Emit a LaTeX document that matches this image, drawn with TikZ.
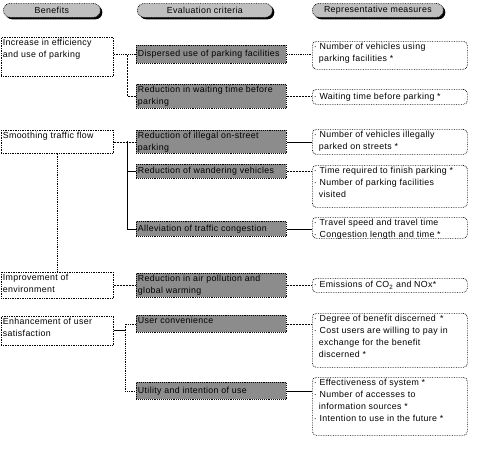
\documentclass[tikz,border=0pt]{standalone}
\usepackage{fontspec}
\setmainfont[LetterSpace=4]{Liberation Sans}
\usetikzlibrary{shadows}
\newcommand\cellbox[3]{\parbox[t][#2][t]{#1}{\raggedright #3}}
\newcommand\cellmid[3]{\parbox[t][#2][c]{#1}{\raggedright #3}}
\newcommand\ind{\hspace*{5pt}}
\begin{document}
\begin{tikzpicture}[x=1pt,y=-1pt,
  every node/.style={font=\fontsize{8.8}{12}\selectfont, inner xsep=1.5pt, inner ysep=1.5pt, anchor=north west},
  head/.style={draw, densely dotted, line width=0.7pt, fill=black!25, rounded corners=7pt, minimum height=14pt, inner sep=0pt,
    drop shadow={shadow xshift=2pt, shadow yshift=-2pt, fill=black, opacity=1}},
  lbox/.style={draw, densely dotted, line width=0.7pt, fill=white},
  mbox/.style={draw, densely dotted, line width=0.9pt, fill=black!45},
  rbox/.style={draw, densely dotted, line width=0.7pt, rounded corners=4pt, fill=white},
  dotline/.style={densely dotted, line width=0.8pt},
  dashline/.style={dashed, dash pattern=on 2pt off 1pt, line width=0.6pt},
  solline/.style={line width=0.7pt}
]
\useasboundingbox (0,0) rectangle (500,455);

% headers
\node[head, minimum width=97pt] (H1) at (3,3) {Benefits};
\node[head, minimum width=135pt] (H2) at (137,3) {Evaluation criteria};
\node[head, minimum width=131pt] (H3) at (312,3) {Representative measures};

% benefits
\node[lbox] (L1) at (1,37) {\cellbox{109pt}{36pt}{Increase in efficiency\\and use of parking}};
\node[lbox] (L2) at (1,130) {\cellbox{109pt}{20pt}{Smoothing traffic flow}};
\node[lbox] (L3) at (1,272) {\cellbox{109pt}{23pt}{Improvement of\\environment}};
\node[lbox] (L4) at (1,316) {\cellbox{109pt}{26pt}{Enhancement of user\\satisfaction}};

% criteria
\node[mbox] (M1) at (136,45) {\cellmid{147pt}{15pt}{Dispersed use of parking facilities}};
\node[mbox] (M2) at (136,84) {\cellbox{147pt}{21pt}{Reduction in waiting time before\\parking}};
\node[mbox] (M3) at (136,130) {\cellbox{147pt}{20pt}{Reduction of illegal on-street\\parking}};
\node[mbox] (M4) at (136,164) {\cellmid{147pt}{11pt}{Reduction of wandering vehicles}};
\node[mbox] (M5) at (136,221) {\cellmid{147pt}{12pt}{Alleviation of traffic congestion}};
\node[mbox] (M6) at (136,273) {\cellbox{147pt}{21pt}{Reduction in air pollution and\\global warming}};
\node[mbox] (M7) at (136,315) {\cellbox{147pt}{14pt}{User convenience}};
\node[mbox] (M8) at (136,382) {\cellmid{147pt}{14pt}{Utility and intention of use}};

% measures
\node[rbox] (R1) at (312,41) {\cellbox{152pt}{25pt}{·\ Number of vehicles using\\\ind parking facilities *}};
\node[rbox] (R2) at (312,89) {\cellmid{152pt}{12pt}{·\ Waiting time before parking *}};
\node[rbox] (R3) at (312,129) {\cellbox{152pt}{22pt}{·\ Number of vehicles illegally\\\ind parked on streets *}};
\node[rbox] (R4) at (312,165) {\cellbox{152pt}{39pt}{·\ Time required to finish parking *\\·\ Number of parking facilities\\\ind visited}};
\node[rbox] (R5) at (312,217) {\cellbox{152pt}{18pt}{·\ Travel speed and travel time\\·\ Congestion length and time *}};
\node[rbox] (R6) at (312,278) {\cellmid{152pt}{11pt}{·\ Emissions of CO\textsubscript{2} and NOx*}};
\node[rbox] (R7) at (312,313) {\cellbox{152pt}{51pt}{·\ Degree of benefit discerned \,*\\·\ Cost users are willing to pay in\\\ind exchange for the benefit\\\ind discerned *}};
\node[rbox] (R8) at (312,377) {\cellbox{152pt}{55pt}{·\ Effectiveness of system *\\·\ Number of accesses to\\\ind information sources *\\·\ Intention to use in the future *}};

% branch points
\coordinate (b1) at (127,55);
\coordinate (b2) at (127,141);
\coordinate (b3) at (125,330);

% connectors row 1-2
\draw[dotline] (L1.east |- M1.west) -- (M1.west);
\draw[dashline] (b1) |- (M2.west);
\draw[dotline] (M1.east) -- (M1.east -| R1.west);
\draw[dashline] (M2.east) -- (M2.east -| R2.west);

% smoothing traffic flow
\draw[dashline] (L2.east |- M3.west) -- (M3.west);
\draw[solline] (b2) |- (M4.west);
\draw[solline] (b2) |- (M5.west);
\draw[solline] (M3.east) -- (M3.east -| R3.west);
\draw[dashline] (M4.east) -- (M4.east -| R4.west);
\draw[solline] (M5.east) -- (M5.east -| R5.west);

% environment
\draw[dotline] (L2.south) -- (L3.north);
\draw[dashline] (L3.east |- M6.west) -- (M6.west);
\draw[dashline] (M6.east) -- (M6.east -| R6.west);

% user satisfaction
\draw[solline] (L4.east |- b3) -- (b3);
\draw[dotline] (b3) |- (M7.west);
\draw[dotline] (b3) |- (M8.west);
\draw[dashline] (M7.east) -- (M7.east -| R7.west);
\draw[solline] (M8.east) -- (M8.east -| R8.west);
\end{tikzpicture}
\end{document}
